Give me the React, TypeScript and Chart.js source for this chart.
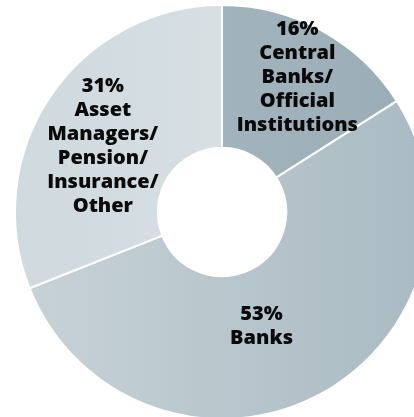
import React, { useEffect, useRef } from "react";
import { Chart, registerables } from "chart.js";

Chart.register(...registerables);

const categories = ["Central Banks/Official Institutions", "Banks", "Asset Managers/Pension/Insurance/Other"];
const shares = [16, 53, 31];
const labelLines = [
  ["16%", "Central", "Banks/", "Official", "Institutions"],
  ["53%", "Banks"],
  ["31%", "Asset", "Managers/", "Pension/", "Insurance/", "Other"],
];
// gradient stops (left -> right) for each slice
const colorStops = [
  ["#a9b9c1", "#9aadb6"],
  ["#c8d3d8", "#a9bac2"],
  ["#cfd9de", "#dfe5e8"],
];
// label block offsets from each arc's centre point
const labelOffsets = [
  [10, -16],
  [-22, -7],
  [-7, 11],
];

const labelPlugin = {
  id: "sliceLabels",
  afterDatasetsDraw(chart: any) {
    const ctx = chart.ctx;
    const meta = chart.getDatasetMeta(0);
    ctx.save();
    ctx.font = "800 20px 'Open Sans', 'Noto Sans', sans-serif";
    ctx.fillStyle = "#0a0a0a";
    ctx.textAlign = "center";
    ctx.textBaseline = "middle";
    const lh = 24;
    meta.data.forEach((arc: any, i: number) => {
      const p = arc.getCenterPoint();
      const lines = labelLines[i];
      const x = p.x + labelOffsets[i][0];
      const y0 = p.y + labelOffsets[i][1] - ((lines.length - 1) * lh) / 2;
      lines.forEach((t, j) => ctx.fillText(t, x, y0 + j * lh));
    });
    ctx.restore();
  },
};

export default function App() {
  const ref = useRef<HTMLCanvasElement>(null);
  useEffect(() => {
    document.body.style.margin = "0";
    document.body.style.overflow = "hidden";
    const cv = ref.current!;
    const chart = new Chart(cv, {
      type: "doughnut",
      data: {
        labels: categories,
        datasets: [
          {
            data: shares,
            backgroundColor: (c: any) => {
              const ch = c.chart;
              const area = ch.chartArea;
              if (!area) return colorStops[c.dataIndex][0];
              const g = ch.ctx.createLinearGradient(area.left, 0, area.right, 0);
              g.addColorStop(0, colorStops[c.dataIndex][0]);
              g.addColorStop(1, colorStops[c.dataIndex][1]);
              return g;
            },
            borderColor: "#ffffff",
            borderWidth: 2,
          },
        ],
      },
      options: {
        responsive: false,
        animation: false,
        cutout: "31%",
        layout: { padding: 12 },
        plugins: { legend: { display: false }, tooltip: { enabled: false } },
      },
      plugins: [labelPlugin],
    });
    return () => chart.destroy();
  }, []);
  return (
    <div style={{ position: "fixed", left: 0, top: 0, width: 414, height: 417, overflow: "hidden", background: "#fff" }}>
      <canvas ref={ref} width={440} height={440} style={{ position: "absolute", left: 2, top: -8, width: 440, height: 440 }} />
    </div>
  );
}
